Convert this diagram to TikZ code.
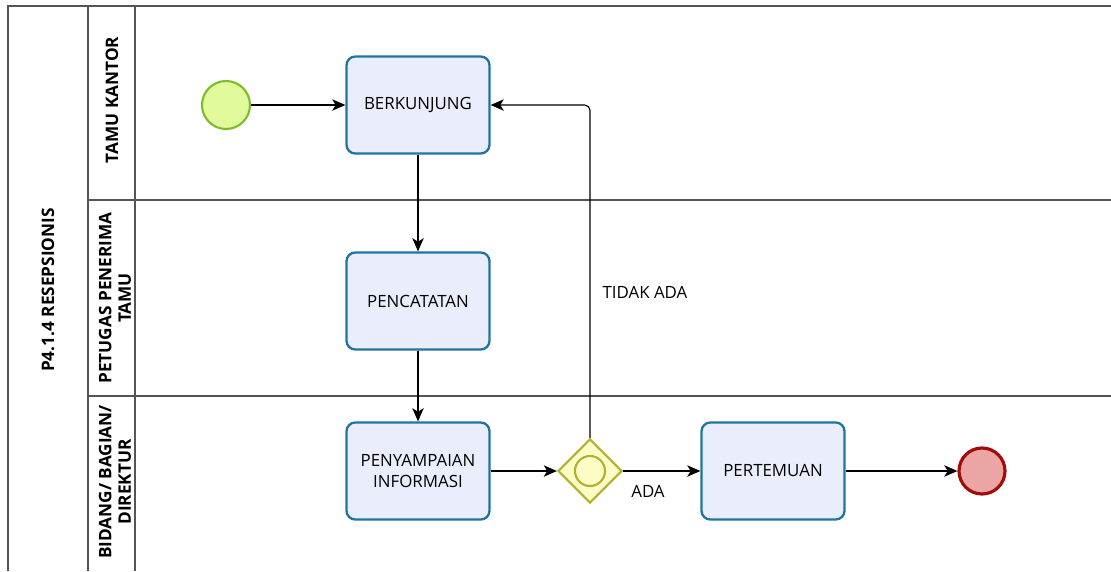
\documentclass[tikz,border=0pt]{standalone}
\usepackage{fontspec}
\setmainfont{Open Sans}
\usepackage{tikz}
\usetikzlibrary{shapes}
\usetikzlibrary{arrows}
\usetikzlibrary{arrows.meta}
\definecolor{taskfill}{HTML}{EAEEFC}
\definecolor{taskdraw}{HTML}{1F74A0}
\definecolor{startfill}{HTML}{E1FA9B}
\definecolor{startdraw}{HTML}{7DBB2A}
\definecolor{endfill}{HTML}{EBA5A5}
\definecolor{enddraw}{HTML}{A10B0B}
\definecolor{gwfill}{HTML}{FDFCC6}
\definecolor{gwdraw}{HTML}{B2B02C}
\definecolor{lanedraw}{HTML}{555555}
\tikzset{
	task node/.style={rectangle,rounded corners=5pt,draw=taskdraw,fill=taskfill,line width=1.3pt,
		minimum width=2.86cm,minimum height=1.94cm,align=center,font=\fontsize{9.6}{12}\selectfont},
	start node/.style={circle,draw=startdraw,fill=startfill,line width=1.2pt,minimum size=0.96cm,inner sep=0pt},
	end node/.style={circle,draw=enddraw,fill=endfill,line width=1.8pt,minimum size=0.92cm,inner sep=0pt},
	gw node/.style={diamond,draw=gwdraw,fill=gwfill,line width=1.2pt,minimum size=1.28cm,inner sep=0pt},
	lane label/.style={rotate=90,align=center,font=\bfseries\fontsize{9.8}{11}\selectfont},
	flow label/.style={font=\fontsize{9.6}{12}\selectfont}
}

\begin{document}
\begin{tikzpicture}[->,>={Stealth[length=7.5pt,width=6.5pt,inset=2pt]},line width=0.65pt]
	\useasboundingbox (0,0) rectangle (22.22,-11.42);
	% pool and lanes
	\begin{scope}[-,draw=lanedraw,line width=0.8pt]
		\draw (0.16,-11.42) -- (0.16,-0.12) -- (22.22,-0.12);
		\draw (1.76,-0.12) -- (1.76,-11.42);
		\draw (2.70,-0.12) -- (2.70,-11.42);
		\draw (1.76,-4.00) -- (22.22,-4.00);
		\draw (1.76,-7.92) -- (22.22,-7.92);
	\end{scope}
	\node [lane label] (pool) at (0.96,-5.80) {P4.1.4 RESEPSIONIS};
	\node [lane label] (tamu) at (2.24,-2.00) {TAMU KANTOR};
	\node [lane label] (petugas) at (2.30,-5.96) {PETUGAS PENERIMA\\TAMU};
	\node [lane label] (bidang) at (2.30,-9.64) {BIDANG/ BAGIAN/\\DIREKTUR};

	% events, tasks and gateway
	\node [start node] (start) at (4.52,-2.10) {};
	\node [task node] (berkunjung) at (8.36,-2.10) {BERKUNJUNG};
	\node [task node] (pencatatan) at (8.36,-6.02) {PENCATATAN};
	\node [task node] (penyampaian) at (8.36,-9.42) {PENYAMPAIAN\\INFORMASI};
	\node [gw node] (gw) at (11.80,-9.42) {};
	\node [circle,draw=gwdraw,line width=1.2pt,minimum size=0.6cm] (gwin) at (gw) {};
	\node [task node] (pertemuan) at (15.46,-9.42) {PERTEMUAN};
	\node [end node] (end) at (19.64,-9.42) {};
	\coordinate (turn) at (11.80,-2.10);

	% sequence flows
	\draw (start) -- (berkunjung);
	\draw (berkunjung) -- (pencatatan);
	\draw (pencatatan) -- (penyampaian);
	\draw (penyampaian) -- (gw);
	\draw (gw) -- (pertemuan);
	\draw (pertemuan) -- (end);
	\draw [rounded corners=3pt] (gw.north) -- (turn) -- (berkunjung.east);
	\node [flow label] (tidak) at (12.90,-5.84) {TIDAK ADA};
	\node [flow label] (ada) at (12.96,-9.82) {ADA};
\end{tikzpicture}
\end{document}
